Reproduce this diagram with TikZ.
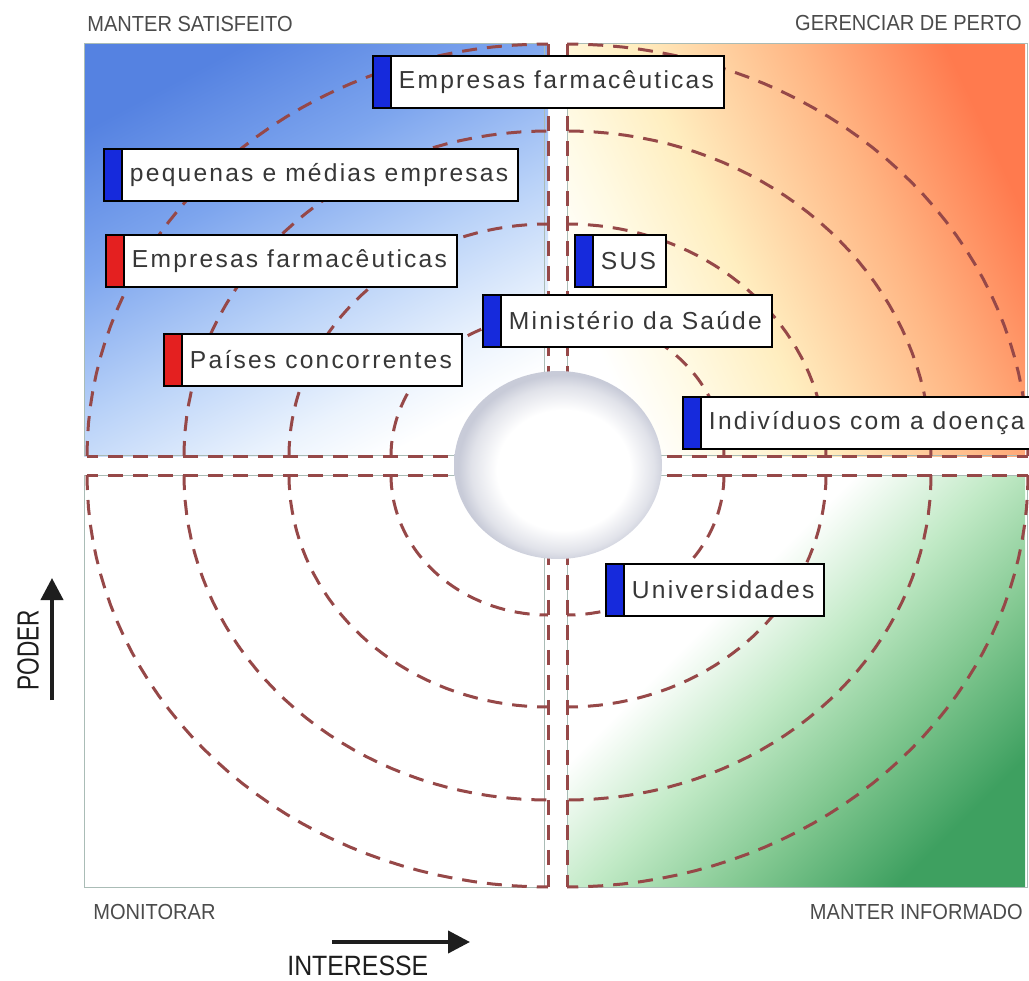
\documentclass[tikz,border=0pt]{standalone}
\usepackage{fontspec}
\setmainfont{Liberation Sans}
\newfontfamily\boxfont[LetterSpace=9]{Liberation Sans}
\newfontfamily\capsfont[FakeStretch=0.92]{Liberation Sans}
\newfontfamily\intfont[FakeStretch=0.89]{Liberation Sans}
\newfontfamily\podfont[FakeStretch=0.74]{Liberation Sans}
\usetikzlibrary{positioning}
\usetikzlibrary{arrows.meta}
\usetikzlibrary{shapes.geometric}

\definecolor{dashred}{RGB}{150,72,72}
\definecolor{quadline}{RGB}{170,188,182}
\definecolor{stripeblue}{RGB}{22,42,220}
\definecolor{stripered}{RGB}{228,32,32}
\definecolor{labeltext}{RGB}{55,55,55}
\definecolor{capsgrey}{RGB}{75,75,75}
\definecolor{arrowgrey}{RGB}{30,30,30}
\definecolor{tlA}{RGB}{85,130,225}
\definecolor{tlB}{RGB}{125,165,238}
\definecolor{tlC}{RGB}{185,210,248}
\definecolor{tlD}{RGB}{235,243,253}
\definecolor{trA}{RGB}{255,250,228}
\definecolor{trB}{RGB}{255,238,192}
\definecolor{trC}{RGB}{255,182,132}
\definecolor{trD}{RGB}{255,122,78}
\definecolor{brA}{RGB}{192,233,197}
\definecolor{brB}{RGB}{130,200,145}
\definecolor{brC}{RGB}{62,160,96}
\definecolor{ballgrey}{RGB}{200,203,216}

\pgfdeclarehorizontalshading{tlshade}{100bp}{color(0bp)=(tlA); color(25bp)=(tlA); color(40bp)=(tlB); color(55bp)=(tlC); color(68bp)=(tlD); color(75bp)=(white); color(100bp)=(white)}
\pgfdeclarehorizontalshading{trshade}{100bp}{color(0bp)=(white); color(25bp)=(white); color(33bp)=(trA); color(43bp)=(trB); color(60bp)=(trC); color(75bp)=(trD); color(100bp)=(trD)}
\pgfdeclarehorizontalshading{brshade}{100bp}{color(0bp)=(white); color(25bp)=(white); color(38bp)=(white); color(50bp)=(brA); color(62bp)=(brB); color(75bp)=(brC); color(100bp)=(brC)}
\pgfdeclareradialshading{ballshade}{\pgfpoint{2bp}{-2bp}}{color(0bp)=(white); color(16bp)=(white); color(22bp)=(ballgrey!55); color(25bp)=(ballgrey); color(50bp)=(ballgrey)}

\tikzset{
  quad/.style={draw=quadline, line width=0.02cm},
  ring/.style={draw=dashred, line width=0.06cm, dash pattern=on 0.3cm off 0.2cm},
  stakebox/.style={draw=black, line width=0.04cm, fill=white, anchor=north west,
    minimum height=1.04cm, inner ysep=0pt, inner xsep=0.2cm,
    font=\boxfont\fontsize{14pt}{16pt}\selectfont, text=labeltext,
    path picture={
      \fill[#1] (path picture bounding box.north west) rectangle ([xshift=0.36cm]path picture bounding box.south west);
      \draw[line width=0.04cm] ([xshift=0.36cm]path picture bounding box.north west) -- ([xshift=0.36cm]path picture bounding box.south west);
    }},
  capslabel/.style={inner sep=0pt, text=capsgrey, font=\capsfont\fontsize{12.4pt}{14pt}\selectfont},
  axisarrow/.style={draw=arrowgrey, line width=0.08cm, -{Triangle[length=0.44cm,width=0.44cm]}},
}

\begin{document}
\begin{tikzpicture}[x=0.02cm, y=-0.02cm]
\useasboundingbox (0,0) rectangle (1029,981);
\clip (0,0) rectangle (1029,981);
\fill[white] (0,0) rectangle (1029,981);

% quadrants
\shade[shading=tlshade, shading angle=-62] (84,43) rectangle (548,456);
\shade[shading=trshade, shading angle=25] (567,43) rectangle (1025,456);
\shade[shading=brshade, shading angle=-45] (567,475) rectangle (1025,887);
\foreach \qx/\qy in {84/43, 567/43, 84/475, 567/475}
  \draw[quad] (\qx,\qy) rectangle ++(460,412);

% rings round the centre
\foreach \cx/\cy/\sx/\sy in {548/456/-1/-1, 567/456/1/-1, 548/475/-1/1, 567/475/1/1} {
  \draw[ring] (\cx,\cy) -- ++(\sx*461,0);
  \draw[ring] (\cx,\cy) -- ++(0,\sy*412);
  \foreach \ra/\rb in {461/412, 364/325, 259/232, 157/140}
    \draw[ring] plot[domain=0:90, samples=40, variable=\t] ({\cx+\sx*\ra*cos(\t)}, {\cy+\sy*\rb*sin(\t)});
}

\node[ellipse, shade, shading=ballshade, minimum width=4.16cm, minimum height=3.76cm, inner sep=0pt] (hub) at (558,465) {};

% stakeholders
\node[stakebox=stripeblue] (farma1) at (372,55) {\hspace*{0.32cm}Empresas farmacêuticas};
\node[stakebox=stripeblue] (pme) at (103,148) {\hspace*{0.32cm}pequenas e médias empresas};
\node[stakebox=stripered] (farma2) at (105,234) {\hspace*{0.32cm}Empresas farmacêuticas};
\node[stakebox=stripered] (paises) at (163,333) {\hspace*{0.32cm}Países concorrentes};
\node[stakebox=stripeblue] (sus) at (574,234) {\hspace*{0.32cm}SUS};
\node[stakebox=stripeblue] (minist) at (482,294) {\hspace*{0.32cm}Ministério da Saúde};
\node[stakebox=stripeblue] (indiv) at (682,396) {\hspace*{0.32cm}Indivíduos com a doença\hspace*{0.5cm}};
\node[stakebox=stripeblue] (univ) at (605,563) {\hspace*{0.32cm}Universidades};

% quadrant titles
\node[capslabel, anchor=west] (satisf) at (87,24) {MANTER SATISFEITO};
\node[capslabel, anchor=east] (perto) at (1022,23) {GERENCIAR DE PERTO};
\node[capslabel, anchor=west] (monit) at (93,912) {MONITORAR};
\node[capslabel, anchor=east] (inform) at (1023,912) {MANTER INFORMADO};

% axes
\coordinate (podlow) at (52,700);
\coordinate (podtop) at (52,578);
\draw[axisarrow] (podlow) -- (podtop);
\node[rotate=90, inner sep=0pt, text=arrowgrey, font=\podfont\fontsize{17.4pt}{19pt}\selectfont] (poder) at (28,650) {PODER};
\coordinate (intleft) at (332,942);
\coordinate (intright) at (470,942);
\draw[axisarrow] (intleft) -- (intright);
\node[anchor=base west, inner sep=0pt, text=arrowgrey, font=\intfont\fontsize{15.9pt}{18pt}\selectfont] (interesse) at (287,975) {INTERESSE};
\end{tikzpicture}
\end{document}
